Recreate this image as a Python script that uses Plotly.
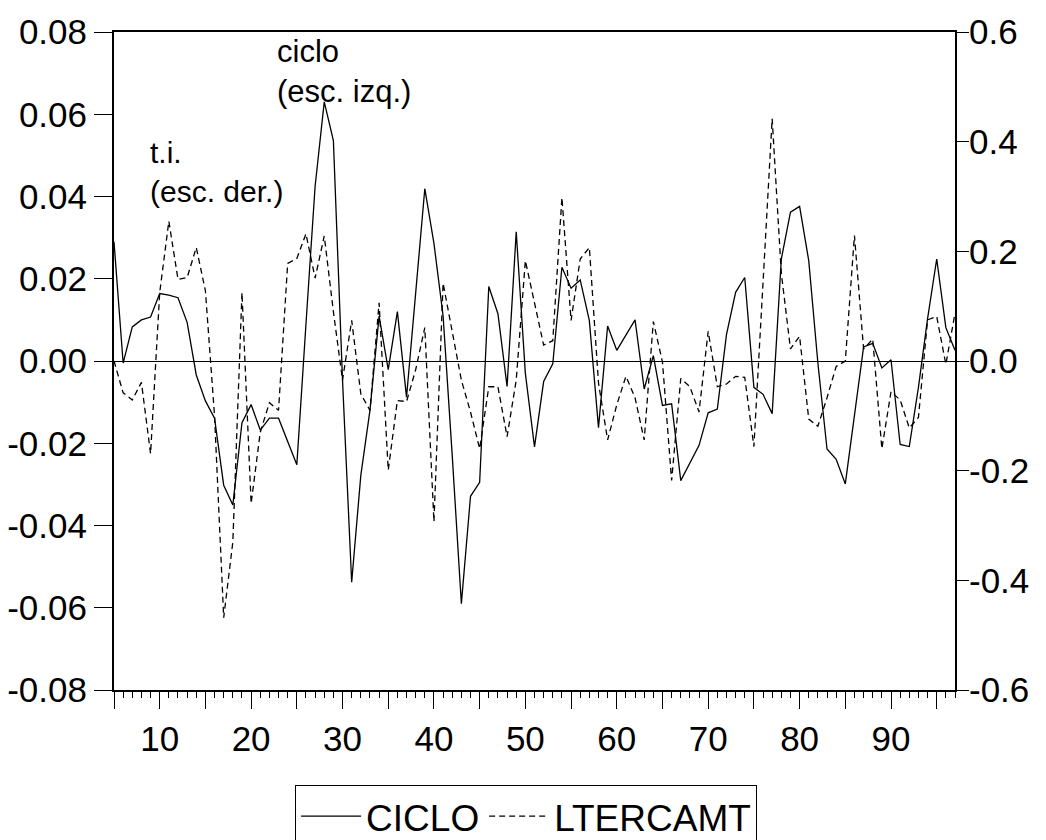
import plotly.graph_objects as go

obs = list(range(5, 98))

ciclo = [
    0.0290, -0.0005, 0.0083, 0.0100, 0.0107, 0.0164, 0.0160, 0.0154, 0.0094, -0.0034,
    -0.0097, -0.0139, -0.0302, -0.0350, -0.0150, -0.0106, -0.0168, -0.0139, -0.0139, -0.0196,
    -0.0252, 0.0090, 0.0425, 0.0630, 0.0536, -0.0047, -0.0538, -0.0278, -0.0120, 0.0109,
    -0.0021, 0.0120, -0.0088, 0.0165, 0.0419, 0.0286, 0.0110, -0.0230, -0.0590, -0.0329,
    -0.0295, 0.0181, 0.0115, -0.0062, 0.0314, -0.0030, -0.0209, -0.0050, -0.0007, 0.0228,
    0.0177, 0.0197, 0.0098, -0.0162, 0.0085, 0.0026, 0.0064, 0.0100, -0.0068, 0.0013,
    -0.0108, -0.0104, -0.0291, -0.0248, -0.0205, -0.0126, -0.0117, 0.0064, 0.0167, 0.0203,
    -0.0064, -0.0081, -0.0128, 0.0248, 0.0362, 0.0376, 0.0244, -0.0005, -0.0214, -0.0239,
    -0.0299, -0.0132, 0.0034, 0.0043, -0.0017, 0.0003, -0.0203, -0.0208, -0.0064, 0.0103,
    0.0248, 0.0081, 0.0026,
]

ltercamt = [
    0.000, -0.058, -0.071, -0.039, -0.169, 0.125, 0.255, 0.149, 0.152, 0.207,
    0.128, -0.100, -0.468, -0.330, 0.125, -0.260, -0.130, -0.076, -0.090, 0.178,
    0.187, 0.232, 0.151, 0.228, 0.090, -0.035, 0.074, -0.060, -0.090, 0.106,
    -0.199, -0.072, -0.074, -0.016, 0.061, -0.293, 0.142, 0.054, -0.035, -0.093,
    -0.160, -0.047, -0.047, -0.138, -0.035, 0.183, 0.106, 0.029, 0.037, 0.298,
    0.074, 0.186, 0.207, -0.040, -0.144, -0.080, -0.028, -0.067, -0.144, 0.072,
    -0.002, -0.218, -0.032, -0.047, -0.093, 0.054, -0.047, -0.042, -0.028, -0.030,
    -0.156, 0.140, 0.442, 0.160, 0.022, 0.045, -0.106, -0.119, -0.067, -0.010,
    0.000, 0.229, 0.022, 0.040, -0.160, -0.056, -0.071, -0.122, -0.103, 0.075,
    0.081, -0.006, 0.087,
]

x_tickvals = [5, 10, 15, 20, 25, 30, 35, 40, 45, 50, 55, 60, 65, 70, 75, 80, 85, 90, 95]
x_ticktext = ["", "10", "", "20", "", "30", "", "40", "", "50", "", "60", "", "70", "", "80", "", "90", ""]
left_tickvals = [0.08, 0.06, 0.04, 0.02, 0.0, -0.02, -0.04, -0.06, -0.08]
left_ticktext = ["0.08", "0.06", "0.04", "0.02", "0.00", "-0.02", "-0.04", "-0.06", "-0.08"]
right_tickvals = [0.6, 0.4, 0.2, 0.0, -0.2, -0.4, -0.6]
right_ticktext = ["0.6", "0.4", "0.2", "0.0", "-0.2", "-0.4", "-0.6"]

FONT = "Liberation Sans, Arial, sans-serif"

fig = go.Figure()
fig.add_trace(go.Scatter(
    x=obs, y=ciclo, mode="lines", name="CICLO",
    line=dict(color="black", width=1.3),
    yaxis="y",
))
fig.add_trace(go.Scatter(
    x=obs, y=ltercamt, mode="lines", name="LTERCAMT",
    line=dict(color="black", width=1.3, dash="6px,4px"),
    yaxis="y2",
))

fig.update_layout(
    width=1046, height=840,
    margin=dict(l=114, r=91, t=32, b=150, autoexpand=False),
    paper_bgcolor="white", plot_bgcolor="white",
    font=dict(family=FONT, color="black", size=35),
    showlegend=True,
    legend=dict(
        orientation="h", x=0.49, xanchor="center",
        yref="container", y=0.066, yanchor="top",
        bordercolor="black", borderwidth=1, font=dict(size=37, family=FONT),
        bgcolor="white", itemwidth=60,
    ),
    xaxis=dict(
        range=[5, 97], showgrid=False, zeroline=False,
        tickmode="array", tickvals=x_tickvals, ticktext=x_ticktext,
        ticks="outside", ticklen=17, tickwidth=1, tickcolor="black",
        minor=dict(dtick=1, tick0=5, ticks="outside", ticklen=6, tickwidth=1, tickcolor="black", showgrid=False),
        showline=True, linecolor="black", linewidth=2, mirror=True,
        tickfont=dict(size=35), automargin=False,
    ),
    yaxis=dict(
        range=[-0.08, 0.08], showgrid=False,
        zeroline=True, zerolinecolor="black", zerolinewidth=1,
        tickmode="array", tickvals=left_tickvals, ticktext=left_ticktext,
        ticks="outside", ticklen=18, tickwidth=1, tickcolor="black",
        showline=True, linecolor="black", linewidth=2, mirror=True,
        tickfont=dict(size=35), automargin=False,
    ),
    yaxis2=dict(
        range=[-0.6, 0.6], overlaying="y", side="right", showgrid=False,
        zeroline=False,
        tickmode="array", tickvals=right_tickvals, ticktext=right_ticktext,
        ticks="outside", ticklen=13, tickwidth=1, tickcolor="black",
        ticklabelstandoff=-7,
        showline=False,
        tickfont=dict(size=35), automargin=False,
    ),
    annotations=[
        dict(x=22.6, y=1.0, xref="x", yref="paper", xanchor="left", yanchor="top",
             align="left", showarrow=False, text="ciclo<br>(esc. izq.)",
             font=dict(size=31, family=FONT)),
        dict(x=8.7, y=0.0553, xref="x", yref="y", xanchor="left", yanchor="top",
             align="left", showarrow=False, text="t.i.<br>(esc. der.)",
             font=dict(size=30, family=FONT)),
    ],
)

fig.write_html("out.html")
